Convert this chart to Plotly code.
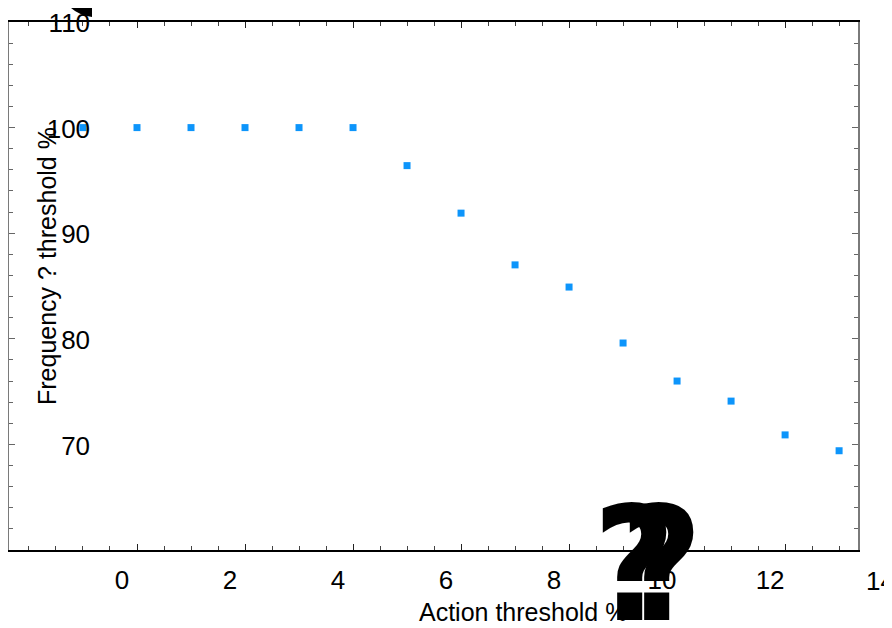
import plotly.graph_objects as go

# Data
action_threshold = [-1, 0, 1, 2, 3, 4, 5, 6, 7, 8, 9, 10, 11, 12, 13]
frequency_pct = [100.0, 100.0, 100.0, 100.0, 100.0, 100.0, 96.4, 91.9, 87.0, 84.9, 79.6, 76.0, 74.1, 70.9, 69.4]

x_title = "Action threshold %"
y_title = "Frequency ? threshold %"
x_tickvals = [0, 2, 4, 6, 8, 10, 12]
x_extra_label = "14"
y_tickvals = [70, 80, 90, 100, 110]

FONT = "Liberation Sans, Arial, sans-serif"
BIG_FONT = "DejaVu Sans Condensed, Liberation Sans Narrow, Liberation Sans, Arial"

# plot area in page pixels (page body adds an 8px offset)
PX0, PX1, PY0, PY1 = 9, 858, 22, 550


def px(xp):
    return (xp - PX0) / (PX1 - PX0)


def py(yp):
    return (PY1 - yp) / (PY1 - PY0)


fig = go.Figure()
fig.add_trace(go.Scatter(
    x=action_threshold, y=frequency_pct, mode="markers",
    marker=dict(symbol="square", size=7, color="#0d95fb"),
    showlegend=False, cliponaxis=False,
))

fig.update_layout(
    width=892, height=628,
    margin=dict(l=PX0 - 8, r=892 - (PX1 - 8), t=PY0 - 8, b=628 - (PY1 - 8), autoexpand=False),
    paper_bgcolor="white", plot_bgcolor="white",
    font=dict(family=FONT, size=26, color="black"),
    xaxis=dict(
        range=[-2.37, 13.35], tickvals=x_tickvals, automargin=False,
        ticks="inside", ticklen=6, tickwidth=1, tickcolor="#222",
        minor=dict(ticks="inside", ticklen=4, dtick=0.5, tick0=0, tickcolor="#444"),
        showline=True, linecolor="black", linewidth=1.5, mirror="ticks",
        showgrid=False, zeroline=False,
        tickfont=dict(size=26), ticklabelshift=-15, ticklabelstandoff=6,
    ),
    yaxis=dict(
        range=[60, 110], tickvals=y_tickvals, automargin=False,
        ticks="inside", ticklen=6, tickwidth=1, tickcolor="#666",
        minor=dict(ticks="inside", ticklen=4, dtick=2, tick0=60, tickcolor="#666"),
        showline=True, linecolor="#7a7a7a", linewidth=1.5, mirror="ticks",
        showgrid=False, zeroline=False,
        tickfont=dict(size=26), ticklabelstandoff=-88, ticklabelshift=1,
    ),
    annotations=[
        dict(text=x_extra_label, xref="paper", yref="paper", x=px(880), y=py(581),
             showarrow=False, xanchor="center", yanchor="middle", font=dict(size=26)),
        dict(text=x_title, xref="paper", yref="paper", x=px(523), y=py(612),
             showarrow=False, xanchor="center", yanchor="middle", font=dict(size=25)),
        dict(text=y_title, xref="paper", yref="paper", x=px(47), y=py(266),
             showarrow=False, xanchor="center", yanchor="middle", textangle=-90, font=dict(size=25)),
        dict(text="<b>?</b>", xref="paper", yref="paper", x=px(634), y=py(565),
             showarrow=False, xanchor="center", yanchor="middle",
             font=dict(size=158, family=BIG_FONT)),
        dict(text="<b>?</b>", xref="paper", yref="paper", x=px(661), y=py(565),
             showarrow=False, xanchor="center", yanchor="middle",
             font=dict(size=158, family=BIG_FONT)),
    ],
    shapes=[
        dict(type="path", xref="paper", yref="paper",
             path=f"M {px(70)} {py(7)} L {px(92)} {py(7)} L {px(92)} {py(17)} "
                  f"Q {px(78)} {py(15)} {px(70)} {py(7)} Z",
             fillcolor="black", line=dict(width=0)),
    ],
)

fig.write_html("out.html")
